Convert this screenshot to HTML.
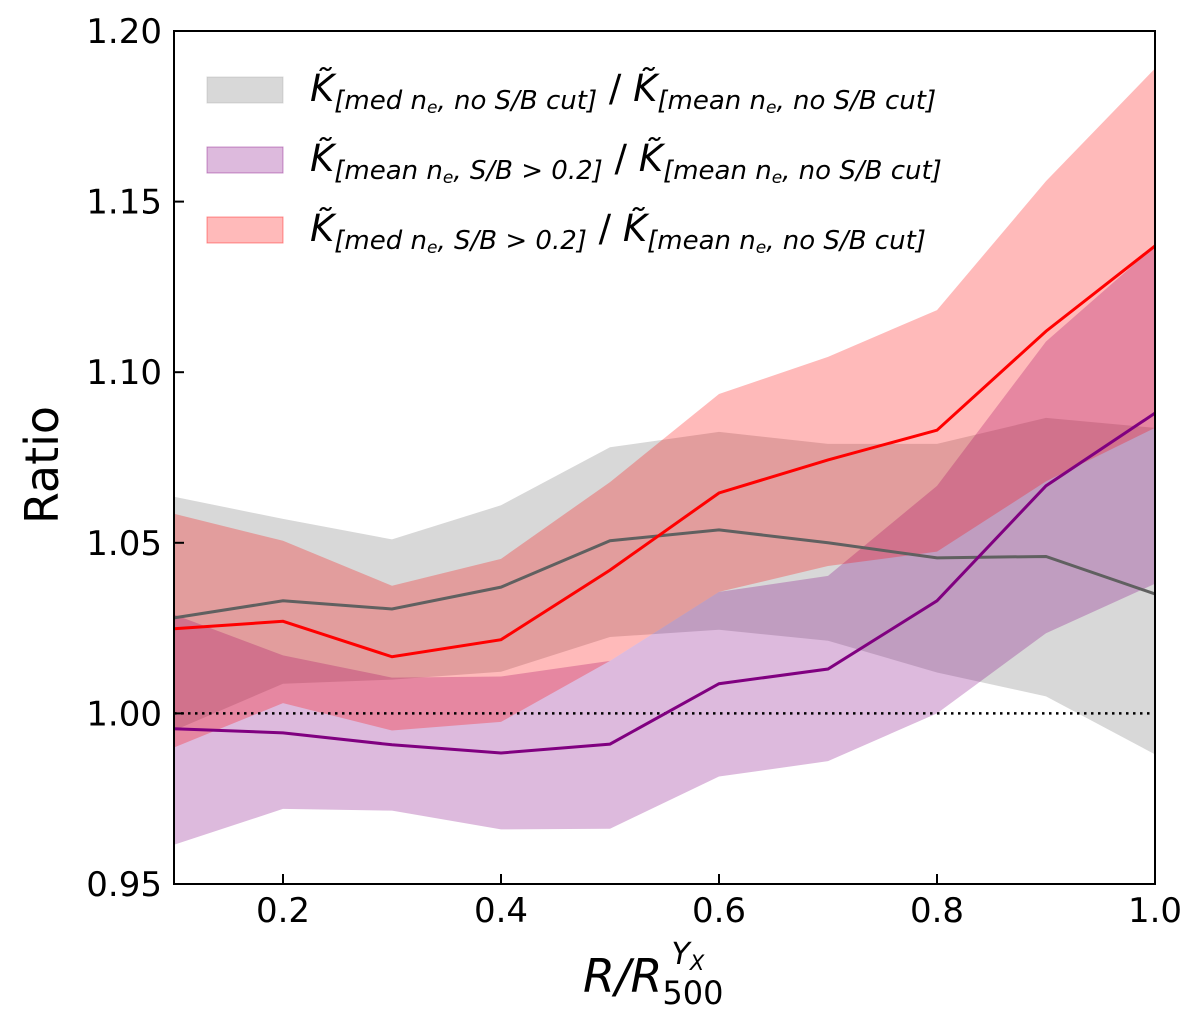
<!DOCTYPE html>
<html><head><meta charset="utf-8"><style>
body{margin:0;background:#fff;}
svg text{font-family:"DejaVu Sans","Liberation Sans",sans-serif;}
</style></head><body>
<svg id="chart" width="1200" height="1029" xmlns="http://www.w3.org/2000/svg">
<g id="bands"></g><g id="lines"></g><g id="axes"></g><g id="legend"></g>
</svg>
<script>
const xs=[0.1,0.2,0.3,0.4,0.5,0.6,0.7,0.8,0.9,1.0];
const grayMid=[1.028,1.033,1.0306,1.037,1.0506,1.0538,1.050,1.0456,1.046,1.035];
const grayHi=[1.0635,1.057,1.051,1.061,1.078,1.0825,1.079,1.079,1.0866,1.0837];
const grayLo=[0.995,1.0087,1.0099,1.0122,1.0224,1.0245,1.0213,1.012,1.005,0.988];
const purpMid=[0.9955,0.9943,0.9908,0.9884,0.991,1.0087,1.013,1.033,1.0667,1.088];
const purpHi=[1.029,1.017,1.0105,1.0108,1.0154,1.0356,1.0403,1.0667,1.109,1.137];
const purpLo=[0.9615,0.972,0.9715,0.966,0.9662,0.9815,0.986,1.0,1.0235,1.038];
const redMid=[1.0248,1.027,1.0166,1.0216,1.042,1.0646,1.0743,1.083,1.112,1.137];
const redHi=[1.0585,1.0506,1.0374,1.0453,1.0678,1.0936,1.1045,1.1182,1.156,1.189];
const redLo=[0.990,1.003,0.995,0.9975,1.0154,1.0356,1.0432,1.0474,1.068,1.0837];
const xTicks=[0.2,0.4,0.6,0.8,1.0];
const xTickLabels=["0.2","0.4","0.6","0.8","1.0"];
const yTicks=[0.95,1.00,1.05,1.10,1.15,1.20];
const yTickLabels=["0.95","1.00","1.05","1.10","1.15","1.20"];

const L=174,R=1155,T=31,B=884;
const X=v=>L+(v-0.1)/0.9*(R-L);
const Y=v=>B-(v-0.95)/0.25*(B-T);
const NS="http://www.w3.org/2000/svg";
function mk(tag,attrs,parent){const e=document.createElementNS(NS,tag);for(const k in attrs)e.setAttribute(k,attrs[k]);document.getElementById(parent).appendChild(e);return e;}
function band(hi,lo,fill,op,name){
  let d=xs.map((x,i)=>(i?'L':'M')+X(x)+' '+Y(hi[i])).join(' ');
  for(let i=xs.length-1;i>=0;i--)d+=' L'+X(xs[i])+' '+Y(lo[i]);
  const e=mk('path',{d:d+'Z',fill:fill,'fill-opacity':op},'bands');
  
  
}
function line(v,col,name){
  const e=mk('polyline',{points:xs.map((x,i)=>X(x)+','+Y(v[i])).join(' '),fill:'none',stroke:col,'stroke-width':3},'lines');
  
  
}
band(grayHi,grayLo,'#a9a9a9',0.45,'gray-band');
band(purpHi,purpLo,'#800080',0.27,'purple-band');
band(redHi,redLo,'#ff0000',0.27,'red-band');
const ref=mk('line',{x1:L,x2:R,y1:Y(1),y2:Y(1),stroke:'#000','stroke-width':2.5,'stroke-dasharray':'2.5,4.5'},'lines');


line(grayMid,'#606060','gray-line');
line(purpMid,'#800080','purple-line');
line(redMid,'#ff0000','red-line');

const fr=mk('rect',{x:L,y:T,width:R-L,height:B-T,fill:'none',stroke:'#000','stroke-width':2},'axes');


xTicks.forEach((t,i)=>{
  const tk=mk('line',{x1:X(t),x2:X(t),y1:B,y2:B-10,stroke:'#000','stroke-width':2},'axes');
  
  
  const tx=mk('text',{x:X(t),y:B+38,'text-anchor':'middle','font-size':34},'axes');
  tx.textContent=xTickLabels[i];
  
  
});
yTicks.forEach((t,i)=>{
  const tk=mk('line',{x1:L,x2:L+10,y1:Y(t),y2:Y(t),stroke:'#000','stroke-width':2},'axes');
  
  
  const tx=mk('text',{x:L-12,y:Y(t)+12,'text-anchor':'end','font-size':34},'axes');
  tx.textContent=yTickLabels[i];
  
  
});
const yl=mk('text',{x:58,y:465,'text-anchor':'middle','font-size':46,transform:'rotate(-90 58 465)'},'axes');
yl.textContent='Ratio';


const xl=mk('text',{x:583,y:992,'font-size':46,'font-style':'italic'},'axes');
xl.innerHTML='R/R<tspan font-style="normal" font-size="32" dy="12">500</tspan><tspan font-size="30" dx="-52" dy="-40">Y</tspan><tspan font-size="21" dy="6">X</tspan>';



const leg=[
 ['#a9a9a9',0.45,'med n','no S/B cut','legend-entry-gray'],
 ['#800080',0.27,'mean n','S/B > 0.2','legend-entry-purple'],
 ['#ff0000',0.27,'med n','S/B > 0.2','legend-entry-red']];
leg.forEach((l,i)=>{
  const y0=77+i*70;
  const r=mk('rect',{x:207,y:y0,width:76,height:26,fill:l[0],'fill-opacity':l[1],stroke:l[0],'stroke-opacity':0.4},'legend');
  
  
  const t=mk('text',{x:310,y:y0+24,'font-size':37,'font-style':'italic'},'legend');
  t.innerHTML='K\u0303<tspan font-size="26" dy="8">['+l[2]+'<tspan font-size="17" dy="4">e</tspan><tspan dy="-4">, '+l[3]+']</tspan></tspan><tspan dy="-8" font-style="normal"> / </tspan>K\u0303<tspan font-size="26" dy="8">[mean n<tspan font-size="17" dy="4">e</tspan><tspan dy="-4">, no S/B cut]</tspan></tspan>';
  
  
});
</script>
</body></html>
